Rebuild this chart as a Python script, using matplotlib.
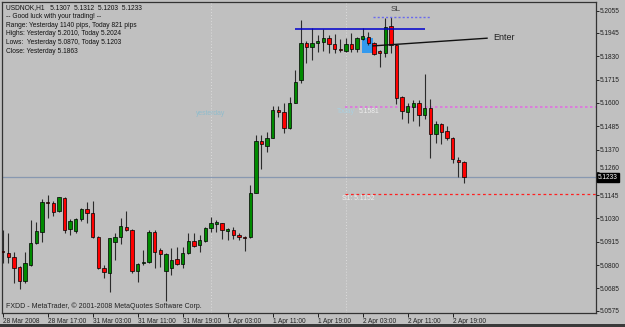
import numpy as np
import matplotlib
matplotlib.use('Agg')
import matplotlib.pyplot as plt
from matplotlib.patches import Rectangle

plt.rcParams['font.family'] = ['Liberation Sans', 'DejaVu Sans']

# ---- data (USDNOK, H1) ----
opens = [5.0868, 5.0858, 5.0841, 5.0789, 5.0723, 5.0800, 5.0907, 5.0965, 5.1110, 5.1105,
         5.1068, 5.1132, 5.0977, 5.0970, 5.1027, 5.1075, 5.1055, 5.0937, 5.0784, 5.0762,
         5.0912, 5.0940, 5.0989, 5.0973, 5.0771, 5.0809, 5.0817, 5.0965, 5.0874, 5.0772,
         5.0784, 5.0829, 5.0804, 5.0858, 5.0920, 5.0899, 5.0920, 5.0981, 5.1003, 5.1006,
         5.0968, 5.0973, 5.0947, 5.0937, 5.0937, 5.1157, 5.1414, 5.1389, 5.1428, 5.1565,
         5.1554, 5.1475, 5.1601, 5.1713, 5.1894, 5.1877, 5.1894, 5.1902, 5.1919, 5.1891,
         5.1866, 5.1857, 5.1891, 5.1864, 5.1915, 5.1924, 5.1897, 5.1856, 5.1845, 5.1979,
         5.1886, 5.1631, 5.1557, 5.1581, 5.1601, 5.1540, 5.1576, 5.1447, 5.1494, 5.1463,
         5.1428, 5.1316, 5.1307]
highs = [5.0973, 5.0960, 5.0866, 5.0795, 5.0866, 5.1022, 5.1014, 5.1124, 5.1146, 5.1118,
         5.1137, 5.1135, 5.1026, 5.1031, 5.1080, 5.1113, 5.1116, 5.0943, 5.0800, 5.0935,
         5.0960, 5.1031, 5.1067, 5.0978, 5.0812, 5.0874, 5.0973, 5.0973, 5.0883, 5.0861,
         5.0883, 5.0891, 5.0888, 5.0960, 5.0957, 5.0948, 5.0989, 5.1036, 5.1022, 5.1009,
         5.0981, 5.0986, 5.0957, 5.0943, 5.1195, 5.1442, 5.1442, 5.1458, 5.1585, 5.1585,
         5.1598, 5.1628, 5.1762, 5.2010, 5.1907, 5.1968, 5.1935, 5.1963, 5.1935, 5.1940,
         5.1915, 5.1919, 5.1943, 5.1927, 5.1968, 5.1951, 5.1902, 5.1861, 5.2017, 5.2024,
         5.1889, 5.1634, 5.1601, 5.1614, 5.1614, 5.1743, 5.1618, 5.1512, 5.1502, 5.1486,
         5.1433, 5.1335, 5.1312]
lows = [5.0809, 5.0809, 5.0710, 5.0680, 5.0713, 5.0795, 5.0904, 5.0915, 5.1031, 5.1042,
        5.1063, 5.0960, 5.0948, 5.0960, 5.1019, 5.1006, 5.0932, 5.0779, 5.0735, 5.0669,
        5.0825, 5.0904, 5.0968, 5.0762, 5.0718, 5.0800, 5.0812, 5.0784, 5.0789, 5.0623,
        5.0751, 5.0800, 5.0784, 5.0855, 5.0891, 5.0866, 5.0915, 5.0965, 5.0965, 5.0927,
        5.0924, 5.0927, 5.0924, 5.0870, 5.0935, 5.1154, 5.1272, 5.1359, 5.1425, 5.1532,
        5.1450, 5.1470, 5.1598, 5.1700, 5.1795, 5.1812, 5.1853, 5.1857, 5.1845, 5.1845,
        5.1853, 5.1853, 5.1853, 5.1853, 5.1910, 5.1886, 5.1836, 5.1776, 5.1825, 5.1845,
        5.1595, 5.1519, 5.1502, 5.1512, 5.1486, 5.1519, 5.1327, 5.1404, 5.1397, 5.1417,
        5.1302, 5.1236, 5.1203]
closes = [5.0866, 5.0838, 5.0784, 5.0723, 5.0809, 5.0907, 5.0968, 5.1110, 5.1108, 5.1063,
          5.1134, 5.0973, 5.1019, 5.1027, 5.1075, 5.1055, 5.0937, 5.0784, 5.0764, 5.0932,
          5.0940, 5.0993, 5.0973, 5.0771, 5.0805, 5.0815, 5.0965, 5.0866, 5.0853, 5.0853,
          5.0825, 5.0804, 5.0861, 5.0919, 5.0896, 5.0924, 5.0983, 5.1006, 5.1014, 5.0973,
          5.0978, 5.0948, 5.0937, 5.0936, 5.1154, 5.1414, 5.1396, 5.1428, 5.1565, 5.1554,
          5.1475, 5.1598, 5.1702, 5.1894, 5.1877, 5.1897, 5.1904, 5.1919, 5.1889, 5.1866,
          5.1863, 5.1891, 5.1866, 5.1919, 5.1930, 5.1897, 5.1841, 5.1848, 5.1976, 5.1886,
          5.1626, 5.1562, 5.1585, 5.1601, 5.1540, 5.1573, 5.1447, 5.1494, 5.1458, 5.1425,
          5.1322, 5.1307, 5.1233]

xtick_pos = [0, 8, 16, 24, 32, 40, 48, 56, 64, 72, 80]
xtick_labels = ["28 Mar 2008", "28 Mar 17:00", "31 Mar 03:00", "31 Mar 11:00",
                "31 Mar 19:00", "1 Apr 03:00", "1 Apr 11:00", "1 Apr 19:00",
                "2 Apr 03:00", "2 Apr 11:00", "2 Apr 19:00"]
ytick_values = [5.2055, 5.1945, 5.1830, 5.1715, 5.1600, 5.1485, 5.1370, 5.1260,
                5.1145, 5.1030, 5.0915, 5.0800, 5.0685, 5.0575]
day_separators = [37, 61]
pivot_today = 5.1581
s1_today = 5.1152
last_price = 5.1233
sl_level = 5.2022
blue_level = 5.1963
enter_prices = [5.1881, 5.1919]
zone_prices = [5.1844, 5.1919]
info_lines = ["USDNOK,H1   5.1307  5.1312  5.1203  5.1233",
              "-- Good luck with your trading! --",
              "Range: Yesterday 1140 pips, Today 821 pips",
              "Highs: Yesterday 5.2010, Today 5.2024",
              "Lows:  Yesterday 5.0870, Today 5.1203",
              "Close: Yesterday 5.1863"]

BG = '#c0c0c0'
fig = plt.figure(figsize=(6.25, 3.27), dpi=100, facecolor=BG)
ax = fig.add_axes([2/625, 14/327, 594/625, 311.3/327])
ax.set_facecolor(BG)

o = np.array(opens); h = np.array(highs); l = np.array(lows); c = np.array(closes)
x = np.arange(len(o))
XMAX = 105.47
ax.set_xlim(-0.12, XMAX)
ax.set_ylim(5.0564, 5.2099)

# separators
for s in day_separators:
    ax.axvline(s, color='#dcdcdc', lw=0.7, ls=(0, (1, 2)), zorder=1)

# current price line
ax.axhline(last_price, color='#8898b0', lw=0.9, zorder=2)

# pivot + S1 lines
ax.hlines(pivot_today, 60.85, XMAX, colors='#e070e0', linestyles=(0, (1.5, 1.5)), lw=1.2, zorder=2)
ax.hlines(s1_today, 60.85, XMAX, colors='#ff2020', linestyles=(0, (2.2, 2.2)), lw=0.9, zorder=2)

# blue zone rectangle
ax.add_patch(Rectangle((63.9, zone_prices[0]), 2.0, zone_prices[1] - zone_prices[0],
                       facecolor='#3399ee', edgecolor='none', zorder=2))

# candles
up = c >= o
colors = np.where(up, '#008a00', '#ff0000')
ax.vlines(x, l, h, color='#2b2b2b', lw=0.8, zorder=3)
bottom = np.minimum(o, c)
height = np.maximum(np.abs(c - o), 0.00018)
ax.bar(x, height, bottom=bottom, width=0.6, color=colors, edgecolor='black', lw=0.5, zorder=4)

# blue horizontal line, SL line, Enter line
ax.hlines(blue_level, 52.0, 75.1, colors='#0000cc', lw=1.1, zorder=5)
ax.hlines(sl_level, 65.9, 76.0, colors='#6a6aee', linestyles=(0, (1.5, 1.5)), lw=1.0, zorder=5)
ax.text(69.9, sl_level + 0.0022, "SL", fontsize=6, color='#404040', ha='center', va='bottom', zorder=6)
ax.plot([65.8, 86.1], enter_prices, color='#111111', lw=1.0, zorder=6)
ax.text(87.2, enter_prices[1] + 0.0003, "Enter", fontsize=6.5, color='#202020', ha='left', va='center', zorder=6)

# labels on chart
ax.text(37, 5.1550, "yesterday", fontsize=4.9, color='#8fbccc', ha='center', va='center')
ax.text(59.4, 5.1557, "Today", fontsize=4.9, color='#a8d0e0', ha='left', va='center', zorder=6)
ax.text(63.2, 5.1557, "5.1581", fontsize=4.9, color='#eeeeee', ha='left', va='center', zorder=6)
ax.text(60.3, 5.1129, "S1: 5.1152", fontsize=4.9, color='#eeeeee', ha='left', va='center', zorder=6)

# info text top-left
for i, t in enumerate(info_lines):
    ax.text(0.006, 0.981 - i * 0.0282, t, transform=ax.transAxes, fontsize=4.8,
            color='#111111', ha='left', va='center')
ax.text(0.006, 0.021, "FXDD - MetaTrader, \u00a9 2001-2008 MetaQuotes Software Corp.",
        transform=ax.transAxes, fontsize=5.0, color='#222222', ha='left', va='center')

# axes styling
for sp in ax.spines.values():
    sp.set_color('#333333')
    sp.set_linewidth(0.9)
ax.yaxis.tick_right()
ax.set_yticks(ytick_values)
ax.set_yticklabels([f"{v:.4f}" for v in ytick_values])
ax.tick_params(axis='y', direction='out', length=2, width=0.7, pad=1, labelsize=4.7,
               colors='#222222')
for lbl, v in zip(ax.get_yticklabels(), ytick_values):
    if abs(v - 5.1260) < 1e-6:
        lbl.set_va('bottom')
ax.set_xticks(xtick_pos)
ax.set_xticklabels(xtick_labels, ha='left')
ax.tick_params(axis='x', direction='out', length=3, width=0.7, pad=0.8, labelsize=4.7,
               colors='#222222')

# last-price tag
ax.text(XMAX + 0.3, last_price, f"{last_price:.4f}", fontsize=4.7, color='white',
        ha='left', va='center', zorder=10, clip_on=False,
        bbox=dict(boxstyle='square,pad=0.15', facecolor='black', edgecolor='black'))

# bottom dark band
fig.patches.append(Rectangle((0, 0), 1, 3/327, transform=fig.transFigure,
                             facecolor='#3a3a3a', edgecolor='none'))

fig.savefig('out.png', dpi=100, facecolor=BG)
